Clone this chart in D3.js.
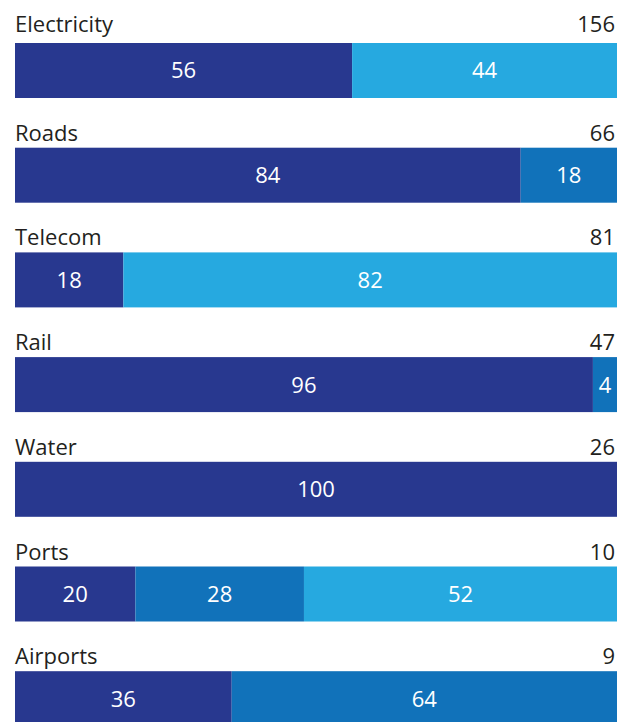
<!DOCTYPE html>
<html lang="en">
<head>
  <meta charset="UTF-8">
  <title>Infrastructure shares</title>
  <script src="https://d3js.org/d3.v7.min.js"></script>
  <style>
    body {
      margin: 0;
      background: #fff;
      font-family: "Open Sans", sans-serif;
    }
    svg { display: block; }
  </style>
</head>
<body>
  <svg id="chart"></svg>

  <script>
    const width = 625, height = 722;

    // rows, top to bottom
    const categories = ["Electricity", "Roads", "Telecom", "Rail", "Water", "Ports", "Airports"];
    const totals = [156, 66, 81, 47, 26, 10, 9];

    // percentage shares per row (three series)
    const shareDark = [56, 84, 18, 96, 100, 20, 36];
    const shareMid = [0, 18, 0, 4, 0, 28, 64];
    const shareLight = [44, 0, 82, 0, 0, 52, 0];

    const keys = ["dark", "mid", "light"];
    const colors = { dark: "#28388f", mid: "#1172ba", light: "#26a9e0" };

    const rows = categories.map((c, i) => ({
      name: c,
      total: totals[i],
      dark: shareDark[i],
      mid: shareMid[i],
      light: shareLight[i]
    }));

    const svg = d3.select("#chart")
      .attr("width", width)
      .attr("height", height);

    // rounded shares can add up past 100, so clamp to the bar end
    const x = d3.scaleLinear()
      .domain([0, 100])
      .range([15, 617])
      .clamp(true);

    const y = d3.scaleBand()
      .domain(categories)
      .range([43, 726.2])
      .paddingInner(0.4747)
      .paddingOuter(0)
      .align(0);

    const stacked = d3.stack().keys(keys)(rows);

    const layer = svg.append("g")
      .selectAll("g")
      .data(stacked)
      .join("g")
      .attr("fill", d => colors[d.key]);

    layer.selectAll("rect")
      .data(d => d.filter(s => s[1] - s[0] > 0))
      .join("rect")
      .attr("x", d => x(d[0]))
      .attr("y", d => y(d.data.name))
      .attr("width", d => x(d[1]) - x(d[0]))
      .attr("height", y.bandwidth());

    // value labels inside segments
    layer.selectAll("text")
      .data(d => d.filter(s => s[1] - s[0] > 0))
      .join("text")
      .attr("x", d => (x(d[0]) + x(d[1])) / 2)
      .attr("y", d => y(d.data.name) + y.bandwidth() / 2)
      .attr("dy", "0.36em")
      .attr("text-anchor", "middle")
      .attr("fill", "#fff")
      .attr("font-size", 22)
      .text(d => d[1] - d[0]);

    // category names and totals above each bar
    const heads = svg.append("g")
      .selectAll("g")
      .data(rows)
      .join("g")
      .attr("transform", (d, i) => `translate(0,${y(d.name) - (i === 0 ? 11 : 7)})`);

    heads.append("text")
      .attr("x", 15)
      .attr("fill", "#231f20")
      .attr("font-size", 22)
      .text(d => d.name);

    heads.append("text")
      .attr("x", 615)
      .attr("text-anchor", "end")
      .attr("fill", "#231f20")
      .attr("font-size", 22)
      .text(d => d.total);
  </script>
</body>
</html>
